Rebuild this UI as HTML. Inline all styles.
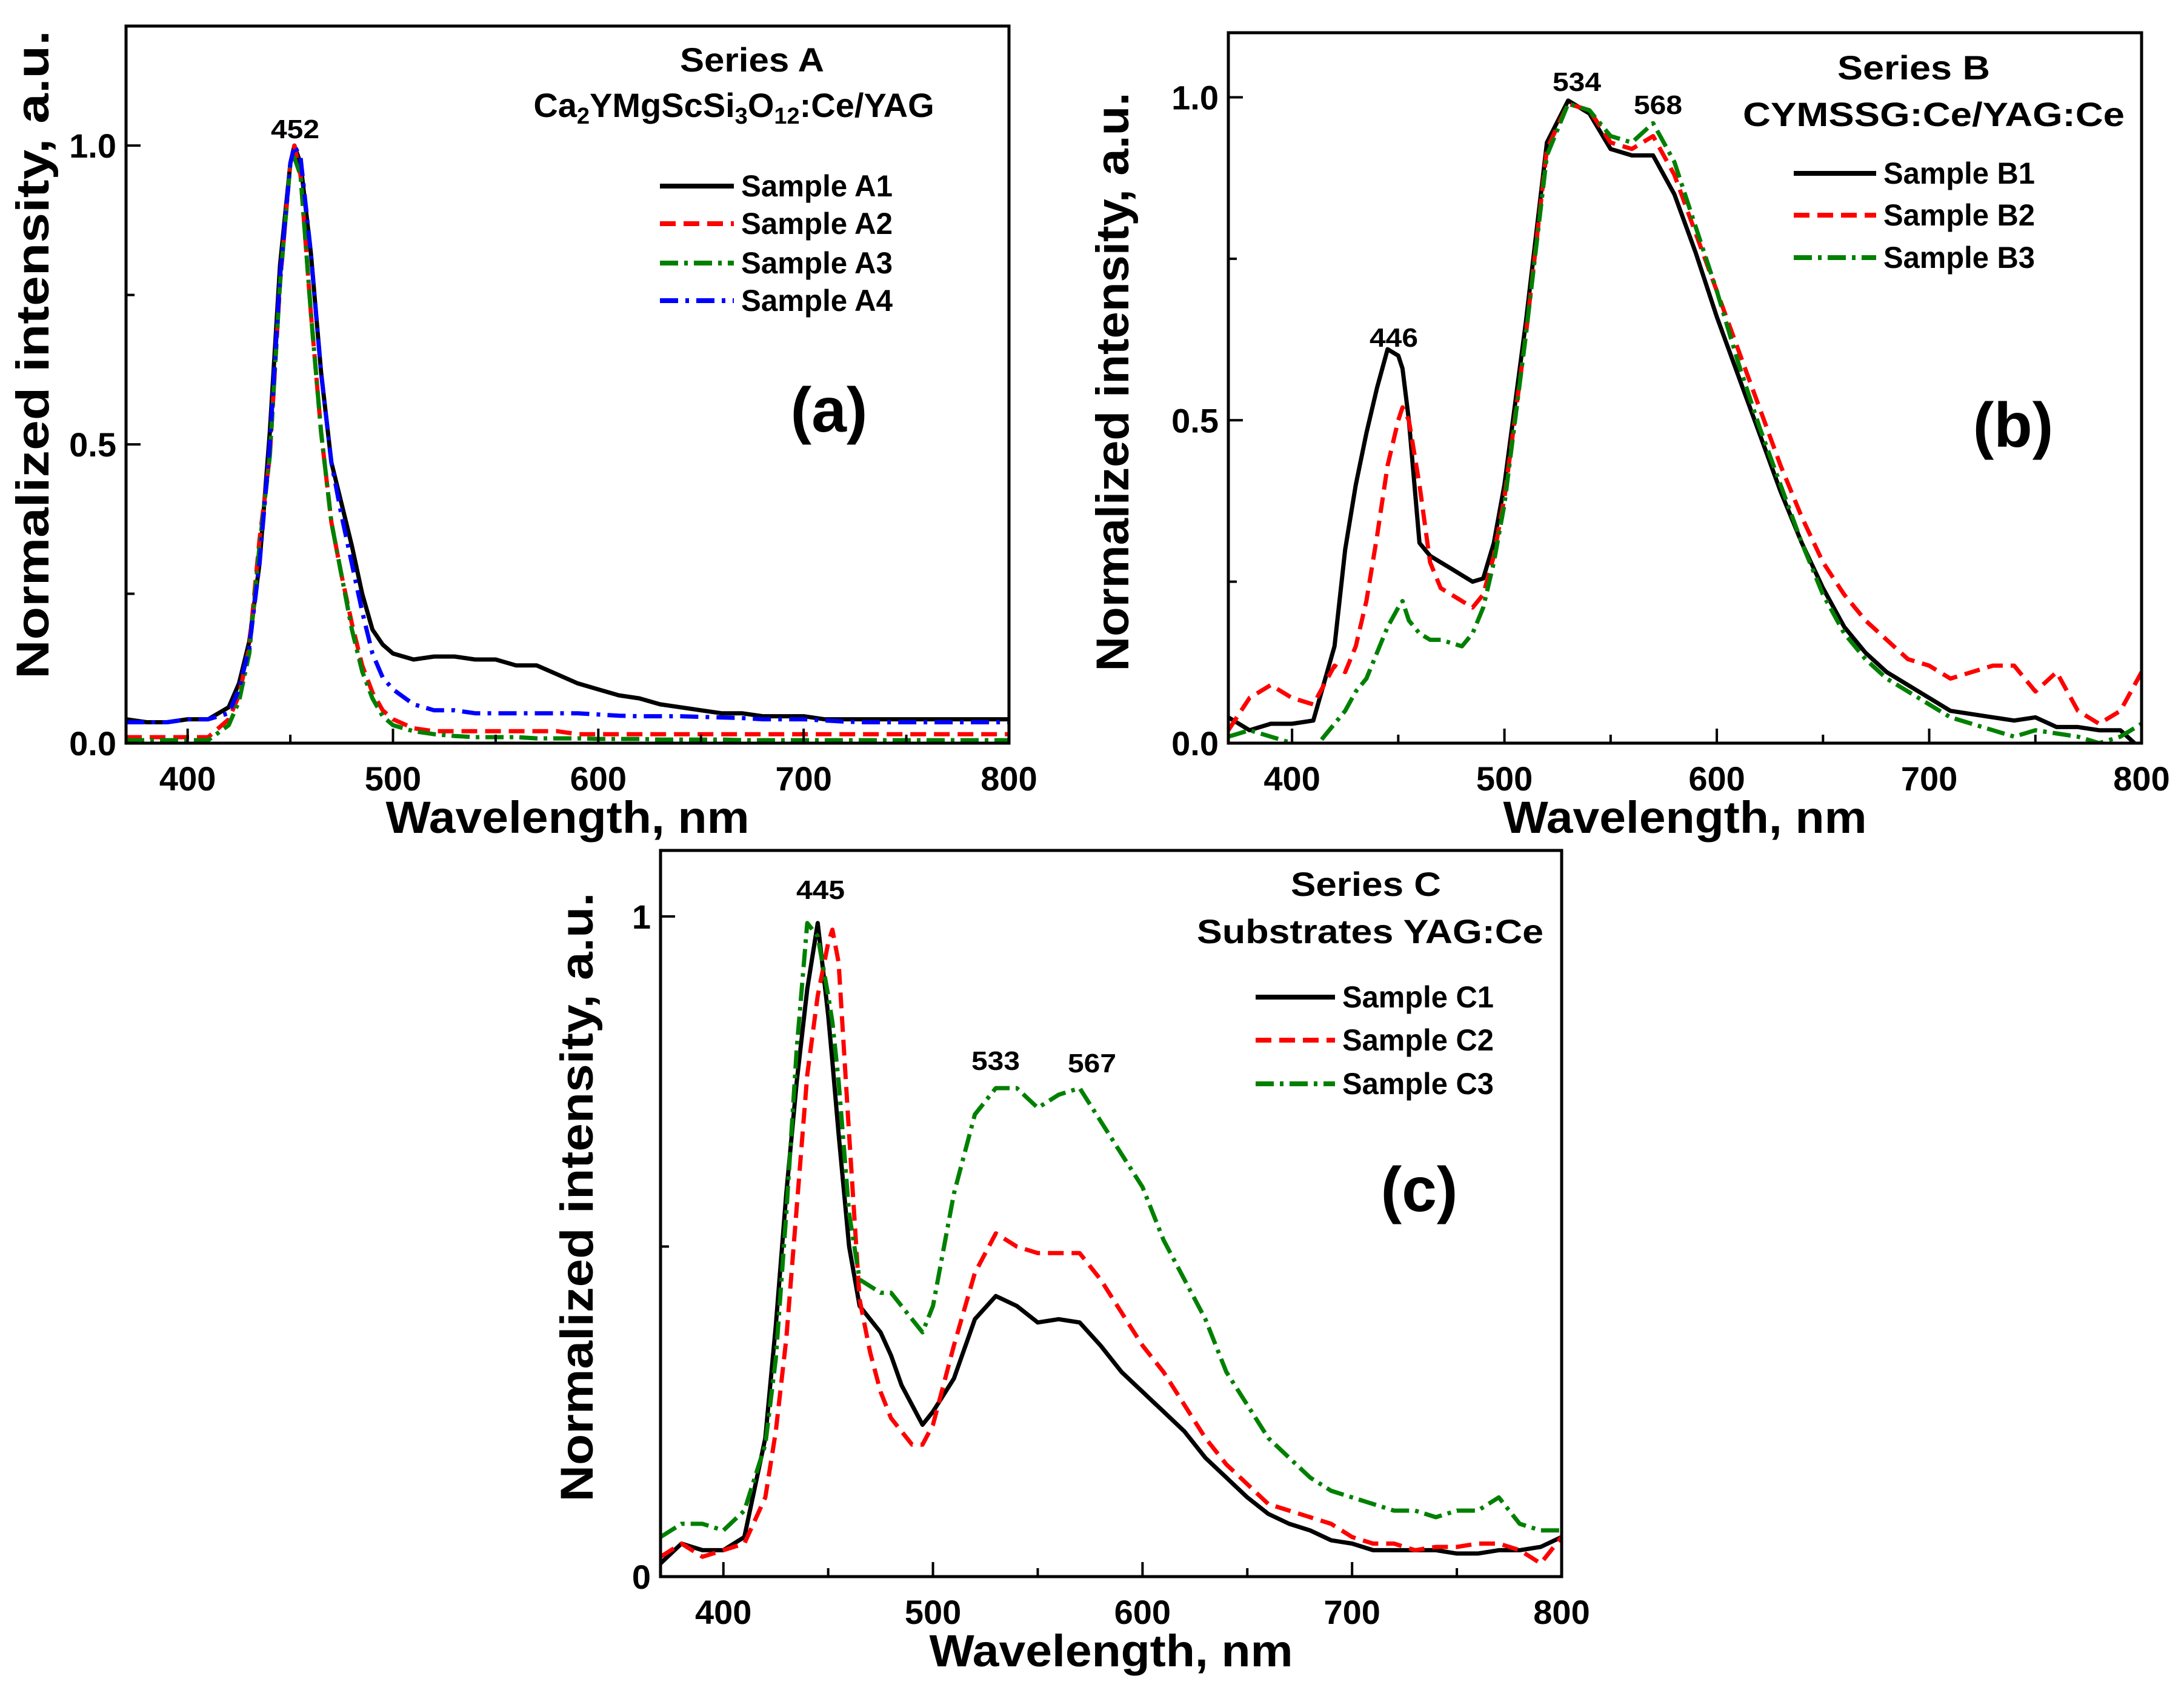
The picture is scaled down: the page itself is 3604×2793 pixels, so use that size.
<!DOCTYPE html>
<html><head><meta charset="utf-8">
<style>html,body{margin:0;padding:0;background:#fff;}svg{display:block;font-family:"Liberation Sans",Arial,sans-serif;font-weight:bold;}</style>
</head><body>
<svg id="fig" xmlns="http://www.w3.org/2000/svg" width="3604" height="2793" viewBox="0 0 3604 2793">
<rect x="0" y="0" width="3604" height="2793" fill="#fff"/>
</svg>
<script>
const wavelengths = [370,380,390,400,410,420,425,430,435,440,445,450,452,455,460,465,470,475,480,485,490,495,500,510,520,530,540,550,560,570,580,590,600,610,620,630,640,650,660,670,680,690,700,710,720,730,740,750,760,770,780,790,800];
const xTicks = [400,500,600,700,800];
const a1 = [0.04,0.035,0.035,0.04,0.04,0.06,0.10,0.17,0.30,0.52,0.80,0.97,1.0,0.97,0.82,0.62,0.47,0.40,0.33,0.25,0.19,0.165,0.15,0.14,0.145,0.145,0.14,0.14,0.13,0.13,0.115,0.10,0.09,0.08,0.075,0.065,0.06,0.055,0.05,0.05,0.045,0.045,0.045,0.04,0.04,0.04,0.04,0.04,0.04,0.04,0.04,0.04,0.04];
const a2 = [0.01,0.01,0.01,0.01,0.01,0.04,0.08,0.16,0.34,0.48,0.77,0.97,1.0,0.95,0.72,0.52,0.37,0.28,0.20,0.13,0.085,0.055,0.04,0.025,0.02,0.02,0.02,0.02,0.02,0.02,0.02,0.015,0.015,0.015,0.015,0.015,0.015,0.015,0.015,0.015,0.015,0.015,0.015,0.015,0.015,0.015,0.015,0.015,0.015,0.015,0.015,0.015,0.015];
const a3 = [0.005,0.005,0.005,0.005,0.005,0.03,0.07,0.15,0.33,0.48,0.77,0.97,0.98,0.95,0.72,0.52,0.37,0.28,0.19,0.12,0.075,0.045,0.03,0.02,0.015,0.012,0.01,0.01,0.01,0.008,0.008,0.008,0.007,0.007,0.007,0.006,0.006,0.006,0.006,0.005,0.005,0.005,0.005,0.005,0.005,0.005,0.005,0.005,0.005,0.005,0.005,0.005,0.005];
const a4 = [0.035,0.035,0.035,0.04,0.04,0.05,0.09,0.16,0.30,0.50,0.78,0.97,1.0,0.98,0.82,0.62,0.47,0.38,0.30,0.22,0.15,0.11,0.09,0.065,0.055,0.055,0.05,0.05,0.05,0.05,0.05,0.05,0.048,0.046,0.045,0.045,0.045,0.044,0.043,0.042,0.04,0.04,0.04,0.038,0.036,0.035,0.035,0.035,0.035,0.035,0.035,0.035,0.035];
const b1 = [0.04,0.02,0.03,0.03,0.035,0.15,0.30,0.40,0.48,0.55,0.61,0.60,0.58,0.50,0.31,0.29,0.28,0.27,0.26,0.25,0.255,0.31,0.40,0.65,0.93,0.995,0.975,0.92,0.91,0.91,0.85,0.76,0.66,0.57,0.48,0.39,0.31,0.24,0.18,0.14,0.11,0.09,0.07,0.05,0.045,0.04,0.035,0.04,0.025,0.025,0.02,0.02,-0.01];
const b2 = [0.02,0.07,0.09,0.07,0.06,0.12,0.11,0.15,0.22,0.32,0.43,0.50,0.52,0.50,0.40,0.28,0.24,0.23,0.22,0.21,0.23,0.29,0.38,0.63,0.92,0.99,0.98,0.93,0.92,0.94,0.88,0.79,0.70,0.61,0.52,0.43,0.35,0.28,0.23,0.19,0.16,0.13,0.12,0.10,0.11,0.12,0.12,0.08,0.11,0.05,0.03,0.05,0.11];
const b3 = [0.01,0.02,0.01,0.0,-0.01,0.03,0.05,0.08,0.10,0.14,0.18,0.21,0.22,0.19,0.17,0.16,0.16,0.155,0.15,0.17,0.21,0.28,0.37,0.63,0.91,0.99,0.98,0.94,0.93,0.96,0.90,0.80,0.70,0.59,0.49,0.40,0.31,0.23,0.17,0.13,0.10,0.08,0.06,0.04,0.03,0.02,0.01,0.02,0.015,0.01,0.0,0.01,0.03];
const c1 = [0.02,0.05,0.04,0.04,0.06,0.21,0.38,0.58,0.75,0.89,0.99,0.85,0.78,0.67,0.50,0.41,0.39,0.37,0.335,0.29,0.26,0.23,0.25,0.30,0.39,0.425,0.41,0.385,0.39,0.385,0.35,0.31,0.28,0.25,0.22,0.18,0.15,0.12,0.095,0.08,0.07,0.055,0.05,0.04,0.04,0.04,0.04,0.035,0.035,0.04,0.04,0.045,0.06];
const c2 = [0.03,0.05,0.03,0.04,0.05,0.12,0.22,0.36,0.56,0.76,0.88,0.96,0.98,0.93,0.67,0.42,0.34,0.28,0.24,0.22,0.20,0.20,0.23,0.35,0.46,0.52,0.50,0.49,0.49,0.49,0.45,0.40,0.35,0.31,0.26,0.21,0.17,0.14,0.11,0.10,0.09,0.08,0.06,0.05,0.05,0.04,0.045,0.045,0.05,0.05,0.04,0.02,0.06];
const c3 = [0.06,0.08,0.08,0.07,0.10,0.20,0.33,0.55,0.80,0.99,0.97,0.88,0.84,0.75,0.55,0.45,0.44,0.43,0.43,0.41,0.39,0.37,0.41,0.58,0.70,0.74,0.74,0.71,0.73,0.74,0.69,0.64,0.59,0.51,0.45,0.39,0.31,0.26,0.21,0.18,0.15,0.13,0.12,0.11,0.10,0.10,0.09,0.10,0.10,0.12,0.08,0.07,0.07];
const panelAYTicks = [0,0.5,1.0];
const panelAYLabels = ["0.0","0.5","1.0"];
const panelCYTicks = [0,1];
const panelCYLabels = ["0","1"];

const NS = "http://www.w3.org/2000/svg";
const svg = document.getElementById('fig');
function mk(tag, attrs, parent){ const e=document.createElementNS(NS,tag); for(const k in attrs) e.setAttribute(k,attrs[k]); (parent||svg).appendChild(e); return e; }
const styles = {
  black:{stroke:"#000",dash:""},
  red:{stroke:"#ff0000",dash:"26 13"},
  green:{stroke:"#008000",dash:"30 10 6 10"},
  blue:{stroke:"#0000ff",dash:"30 12 6 12"}
};
function panel(p){
  const g = mk('g',{});
  
  
  const xs = v => p.x0 + (v-370)/(800-370)*(p.x1-p.x0);
  const ys = v => p.y1 - v/p.ymax*(p.y1-p.y0);
  const cid = 'clip-'+p.name;
  const cp = mk('clipPath',{id:cid},g); mk('rect',{x:p.x0,y:p.y0,width:p.x1-p.x0,height:p.y1-p.y0},cp);
  p.series.forEach(s=>{
    const d = wavelengths.map((w,i)=>(i?'L':'M')+xs(w).toFixed(1)+','+ys(s.data[i]).toFixed(1)).join('');
    const path = mk('path',{d:d,fill:'none',stroke:styles[s.style].stroke,'stroke-width':7,'stroke-dasharray':styles[s.style].dash,'stroke-linejoin':'round','clip-path':'url(#'+cid+')'},g);
    
    
  });
  const fr = mk('rect',{x:p.x0,y:p.y0,width:p.x1-p.x0,height:p.y1-p.y0,fill:'none',stroke:'#000','stroke-width':5},g);
  
  
  for(let v=400; v<=800; v+=50){
    const maj = v%100===0; const x=xs(v);
    mk('line',{x1:x,x2:x,y1:p.y1,y2:p.y1-(maj?24:14),stroke:'#000','stroke-width':4},g);
  }
  xTicks.forEach(v=>{
    const t = mk('text',{x:xs(v),y:p.y1+78,'text-anchor':'middle','font-size':56},g); t.textContent=v;
    
    
  });
  p.minor.forEach(v=>mk('line',{x1:p.x0,x2:p.x0+14,y1:ys(v),y2:ys(v),stroke:'#000','stroke-width':4},g));
  p.yTicks.forEach((v,i)=>{
    mk('line',{x1:p.x0,x2:p.x0+24,y1:ys(v),y2:ys(v),stroke:'#000','stroke-width':4},g);
    const t = mk('text',{x:p.x0-16,y:ys(v)+20,'text-anchor':'end','font-size':56},g); t.textContent=p.yLabels[i];
    
    
  });
  const xt = mk('text',{x:(p.x0+p.x1)/2,y:p.y1+148,'text-anchor':'middle','font-size':74,textLength:600,lengthAdjust:'spacingAndGlyphs'},g);
  xt.textContent='Wavelength, nm';
  
  
  const yt = mk('text',{x:0,y:0,'text-anchor':'middle','font-size':76,textLength:p.ytl,lengthAdjust:'spacingAndGlyphs',transform:'translate('+(p.ytx)+','+(p.ytc)+') rotate(-90)'},g);
  yt.textContent='Normalized intensity, a.u.';
  
  
  p.series.forEach((s,i)=>{
    const y = p.legY[i];
    const ln = mk('line',{x1:p.legX0,x2:p.legX1,y1:y,y2:y,stroke:styles[s.style].stroke,'stroke-width':8,'stroke-dasharray':styles[s.style].dash},g);
    
    
    const t = mk('text',{x:p.legX1+12,y:y+17,'font-size':50,textLength:250,lengthAdjust:'spacingAndGlyphs'},g); t.textContent=s.label;
    
    
  });
  p.notes.forEach(n=>{
    const t = mk('text',{x:n.x,y:n.y,'text-anchor':'middle','font-size':n.fs},g);
    if(n.w){ t.setAttribute('textLength', n.w); t.setAttribute('lengthAdjust','spacingAndGlyphs'); }
    if(n.html) t.innerHTML=n.html; else t.textContent=n.t;
    
    
  });
}
panel({name:'panel-a',x0:208,x1:1665,y0:43,y1:1226,ymax:1.2,yTicks:panelAYTicks,yLabels:panelAYLabels,minor:[0.25,0.75],ytx:80,ytc:585,ytl:1070,
  series:[{label:'Sample A1',data:a1,style:'black'},{label:'Sample A2',data:a2,style:'red'},{label:'Sample A3',data:a3,style:'green'},{label:'Sample A4',data:a4,style:'blue'}],
  legX0:1089,legX1:1211,legY:[307,369,434,496],
  notes:[{t:'Series A',x:1241,y:118,fs:56,w:238,name:'series-title'},
         {html:'Ca<tspan baseline-shift="-30%" font-size="38">2</tspan>YMgScSi<tspan baseline-shift="-30%" font-size="38">3</tspan>O<tspan baseline-shift="-30%" font-size="38">12</tspan>:Ce/YAG',x:1211,y:193,fs:56,name:'composition-label'},
         {t:'452',x:487,y:228,fs:44,w:80,name:'peak-label'},
         {t:'(a)',x:1368,y:712,fs:104,name:'panel-label'}]});
panel({name:'panel-b',x0:2027,x1:3534,y0:54,y1:1226,ymax:1.1,yTicks:panelAYTicks,yLabels:panelAYLabels,minor:[0.25,0.75],ytx:1862,ytc:630,ytl:955,
  series:[{label:'Sample B1',data:b1,style:'black'},{label:'Sample B2',data:b2,style:'red'},{label:'Sample B3',data:b3,style:'green'}],
  legX0:2960,legX1:3096,legY:[286,355,425],
  notes:[{t:'Series B',x:3158,y:131,fs:56,w:252,name:'series-title'},
         {t:'CYMSSG:Ce/YAG:Ce',x:3191,y:208,fs:56,w:630,name:'composition-label'},
         {t:'446',x:2300,y:572,fs:44,w:80,name:'peak-label'},
         {t:'534',x:2602,y:150,fs:44,w:80,name:'peak-label'},
         {t:'568',x:2736,y:188,fs:44,w:80,name:'peak-label'},
         {t:'(b)',x:3322,y:737,fs:104,name:'panel-label'}]});
panel({name:'panel-c',x0:1090,x1:2577,y0:1403,y1:2601,ymax:1.1,yTicks:panelCYTicks,yLabels:panelCYLabels,minor:[0.5],ytx:978,ytc:1975,ytl:1005,
  series:[{label:'Sample C1',data:c1,style:'black'},{label:'Sample C2',data:c2,style:'red'},{label:'Sample C3',data:c3,style:'green'}],
  legX0:2072,legX1:2203,legY:[1645,1716,1788],
  notes:[{t:'Series C',x:2254,y:1478,fs:56,w:248,name:'series-title'},
         {t:'Substrates YAG:Ce',x:2261,y:1556,fs:56,w:572,name:'composition-label'},
         {t:'445',x:1354,y:1483,fs:44,w:80,name:'peak-label'},
         {t:'533',x:1643,y:1765,fs:44,w:80,name:'peak-label'},
         {t:'567',x:1802,y:1769,fs:44,w:80,name:'peak-label'},
         {t:'(c)',x:2342,y:1998,fs:104,name:'panel-label'}]});
</script>
</body></html>
